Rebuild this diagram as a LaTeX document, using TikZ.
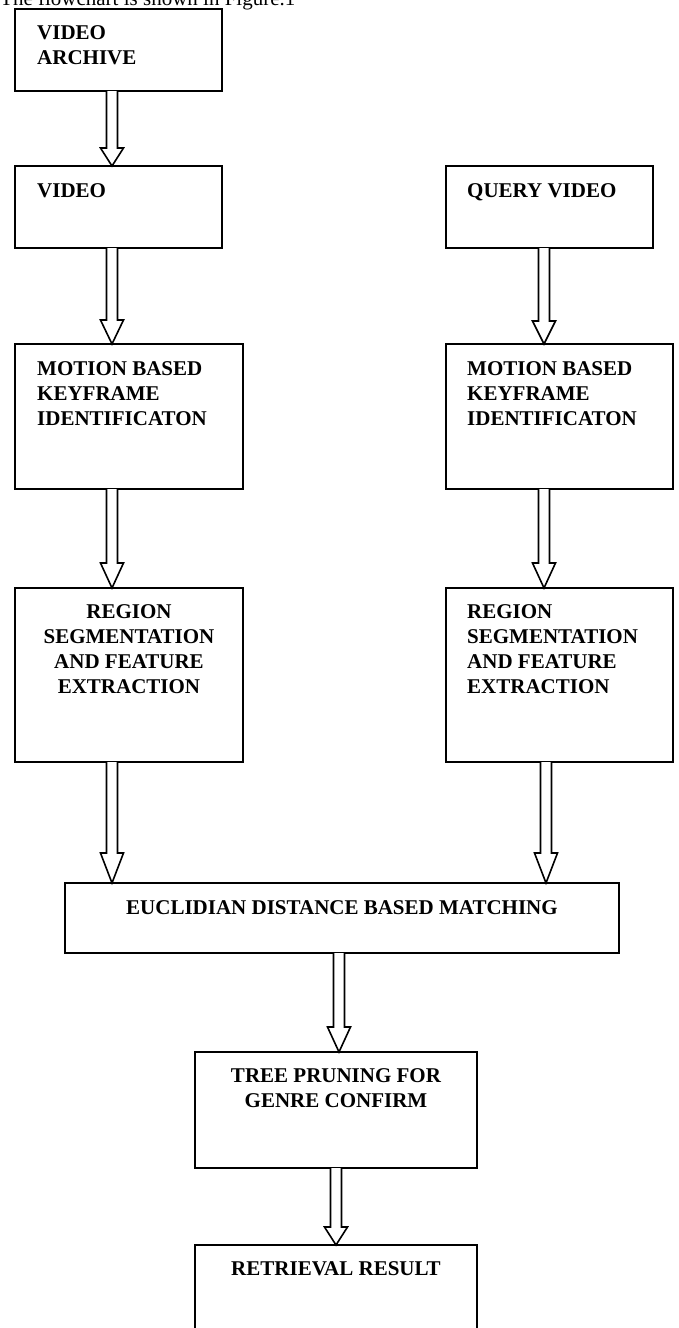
\documentclass[tikz,border=0pt]{standalone}
\usepackage{fontspec}
\setmainfont{Liberation Serif}
\usetikzlibrary{positioning,calc}

\newcommand{\hollowarrow}[4]{%
	\draw[hollow] let \p1=(#2.south), \p2=(#3.north) in
		(#1pt-5.5pt,\y1) -- (#1pt-5.5pt,\y2+#4pt) -- (#1pt-11.5pt,\y2+#4pt) -- (#1pt,\y2)
		-- (#1pt+11.5pt,\y2+#4pt) -- (#1pt+5.5pt,\y2+#4pt) -- (#1pt+5.5pt,\y1);}

\begin{document}
\begin{tikzpicture}[x=1pt,y=-1pt,
	box/.style={draw,line width=1.8pt,inner sep=0,outer sep=0,anchor=north west},
	lbl/.style={font=\bfseries\fontsize{21}{25}\selectfont,inner sep=0,align=left,anchor=north west},
	hollow/.style={draw,line width=1.6pt,fill=white,line join=miter}]
		\path[use as bounding box,fill=white] (0,0) rectangle (678,1328);
		\clip (0,0) rectangle (678,1328);
		% line of the page above the figure
		\node[font=\fontsize{21}{25}\selectfont,inner sep=0,anchor=base west] (head) at (0,5) {The flowchart is shown in Figure.1};
		% boxes
		\node[box,minimum width=207,minimum height=82] (archive) at (15,9) {};
		\node[box,minimum width=207,minimum height=82] (video) at (15,166) {};
		\node[box,minimum width=207,minimum height=82] (query) at (446,166) {};
		\node[box,minimum width=228,minimum height=145] (motionL) at (15,344) {};
		\node[box,minimum width=227,minimum height=145] (motionR) at (446,344) {};
		\node[box,minimum width=228,minimum height=174] (regionL) at (15,588) {};
		\node[box,minimum width=227,minimum height=174] (regionR) at (446,588) {};
		\node[box,minimum width=554,minimum height=70] (match) at (65,883) {};
		\node[box,minimum width=282,minimum height=116] (tree) at (195,1052) {};
		\node[box,minimum width=282,minimum height=150] (result) at (195,1245) {};
		% labels
		\node[lbl] (archivetxt) at (37,25) {VIDEO\\ARCHIVE};
		\node[lbl] (videotxt) at (37,183) {VIDEO};
		\node[lbl] (querytxt) at (467,183) {QUERY VIDEO};
		\node[lbl] (motionLtxt) at (37,361) {MOTION BASED\\KEYFRAME\\IDENTIFICATON};
		\node[lbl] (motionRtxt) at (467,361) {MOTION BASED\\KEYFRAME\\IDENTIFICATON};
		\node[lbl,align=center,anchor=north] (regionLtxt) at (129,604) {REGION\\SEGMENTATION\\AND FEATURE\\EXTRACTION};
		\node[lbl] (regionRtxt) at (467,604) {REGION\\SEGMENTATION\\AND FEATURE\\EXTRACTION};
		\node[lbl,anchor=north] (matchtxt) at (342,900) {EUCLIDIAN DISTANCE BASED MATCHING};
		\node[lbl,align=center,anchor=north] (treetxt) at (336,1068) {TREE PRUNING FOR\\GENRE CONFIRM};
		\node[lbl,anchor=north] (resulttxt) at (336,1261) {RETRIEVAL RESULT};
		% arrows
		\hollowarrow{112}{archive}{video}{18}
		\hollowarrow{112}{video}{motionL}{24}
		\hollowarrow{544}{query}{motionR}{23}
		\hollowarrow{112}{motionL}{regionL}{25}
		\hollowarrow{544}{motionR}{regionR}{25}
		\hollowarrow{112}{regionL}{match}{30}
		\hollowarrow{546}{regionR}{match}{30}
		\hollowarrow{339}{match}{tree}{25}
		\hollowarrow{336}{tree}{result}{18}
	\end{tikzpicture}
\end{document}
